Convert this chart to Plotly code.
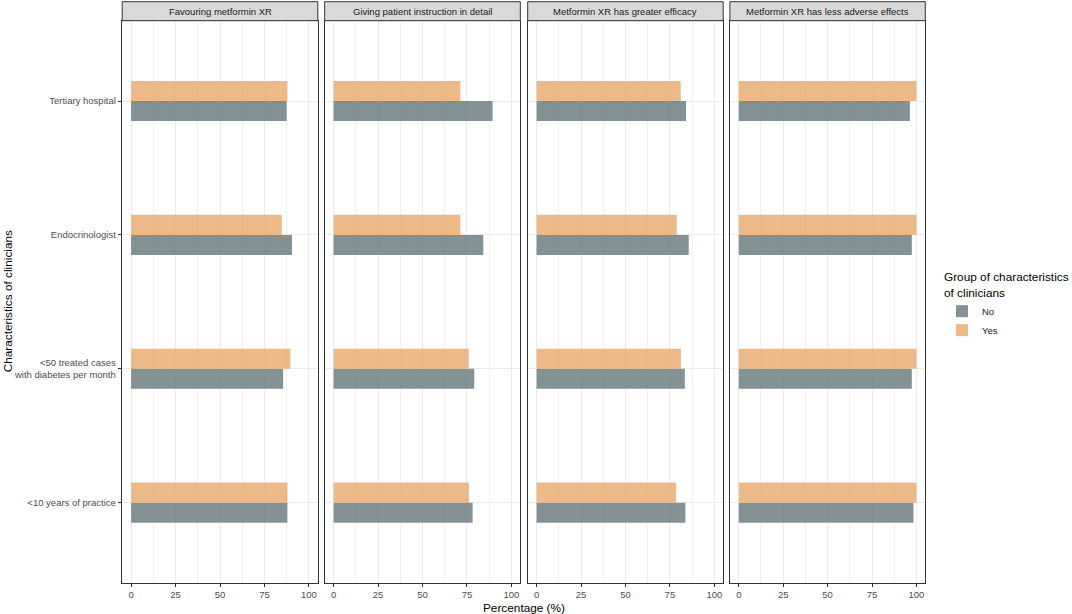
import plotly.graph_objects as go

# ---- data ----
categories = ["<10 years of practice",
              "<50 treated cases<br>with diabetes per month",
              "Endocrinologist",
              "Tertiary hospital"]
panels = ["Favouring metformin XR",
          "Giving patient instruction in detail",
          "Metformin XR has greater efficacy",
          "Metformin XR has less adverse effects"]
groups = ["No", "Yes"]
no_values = [
    [87.9, 85.5, 90.5, 87.5],
    [78.2, 79.1, 84.2, 89.4],
    [83.7, 83.4, 85.6, 84.1],
    [98.3, 97.4, 97.4, 96.3],
]
yes_values = [
    [87.9, 89.6, 84.7, 87.9],
    [76.1, 76.0, 71.3, 71.3],
    [78.5, 81.2, 78.9, 81.1],
    [100.0, 100.0, 100.0, 100.0],
]
x_ticks = [0, 25, 50, 75, 100]

# ---- styling ----
W, H = 1072, 614
FONT = "Liberation Sans, Arial, sans-serif"
colors = {"No": "rgb(110,127,131)", "Yes": "rgb(233,173,117)"}
panel_px = [(122.2, 317.8), (324.7, 520.3), (527.7, 723.2), (729.9, 925.3)]
top_px, bottom_px, strip_top_px = 20.7, 583.0, 1.7
ydom = [1 - bottom_px / H, 1 - top_px / H]

fig = go.Figure()
for j in range(4):
    xa = "x" if j == 0 else f"x{j+1}"
    ya = "y" if j == 0 else f"y{j+1}"
    for g, vals in zip(groups, [no_values[j], yes_values[j]]):
        fig.add_trace(go.Bar(
            y=categories, x=vals, orientation="h", name=g,
            marker=dict(color=colors[g], line=dict(width=0)),
            opacity=0.85, xaxis=xa, yaxis=ya,
            showlegend=(j == 0), legendgroup=g,
        ))

layout = dict(
    width=W, height=H,
    margin=dict(l=0, r=0, t=0, b=0),
    paper_bgcolor="white", plot_bgcolor="white",
    barmode="group", bargap=0.7, bargroupgap=0,
    font=dict(family=FONT, color="#4D4D4D", size=9.5),
    showlegend=True,
    legend=dict(
        title=dict(text="Group of characteristics<br>of clinicians",
                   font=dict(size=11.8, color="black", family=FONT)),
        font=dict(size=9.5, color="#1A1A1A", family=FONT),
        x=942 / W, xanchor="left", y=1 - 266 / H, yanchor="top",
        bgcolor="rgba(0,0,0,0)", traceorder="normal", tracegroupgap=0,
        itemwidth=30,
    ),
)
shapes, annotations = [], []
for j, (x0, x1) in enumerate(panel_px):
    sfx = "" if j == 0 else str(j + 1)
    layout["xaxis" + sfx] = dict(
        domain=[x0 / W, x1 / W], anchor="y" + sfx, range=[-5, 105],
        tickvals=x_ticks, ticktext=[str(v) for v in x_ticks],
        ticks="outside", ticklen=3, tickcolor="#333333", tickwidth=1,
        tickfont=dict(size=9.5, color="#4D4D4D", family=FONT),
        showgrid=True, gridcolor="#EBEBEB", gridwidth=1,
        minor=dict(tick0=12.5, dtick=25, showgrid=True, gridcolor="#F0F0F0", gridwidth=1),
        showline=True, mirror=True, linecolor="#333333", linewidth=1,
        zeroline=False, automargin=False, fixedrange=True,
    )
    layout["yaxis" + sfx] = dict(
        domain=ydom, anchor="x" + sfx, type="category",
        categoryorder="array", categoryarray=categories,
        range=[-0.6, 3.6],
        showticklabels=(j == 0), ticks="outside" if j == 0 else "",
        ticklen=3.5, tickcolor="#333333", tickwidth=1,
        tickfont=dict(size=9.5, color="#4D4D4D", family=FONT),
        showgrid=True, gridcolor="#EBEBEB", gridwidth=1,
        showline=True, mirror=True, linecolor="#333333", linewidth=1,
        zeroline=False, automargin=False, fixedrange=True,
    )
    shapes.append(dict(type="rect", xref="paper", yref="paper",
                       x0=x0 / W, x1=x1 / W, y0=1 - top_px / H, y1=1 - strip_top_px / H,
                       fillcolor="#D9D9D9", line=dict(color="#333333", width=1), layer="above"))
    annotations.append(dict(text=panels[j], xref="paper", yref="paper",
                            x=(x0 + x1) / 2 / W, y=1 - (top_px + strip_top_px) / 2 / H,
                            xanchor="center", yanchor="middle", showarrow=False,
                            font=dict(size=9.5, color="#1A1A1A", family=FONT)))

annotations.append(dict(text="Percentage (%)", xref="paper", yref="paper",
                        x=(panel_px[0][0] + panel_px[3][1]) / 2 / W, y=1 - 607.5 / H,
                        xanchor="center", yanchor="middle", showarrow=False,
                        font=dict(size=11.8, color="black", family=FONT)))
annotations.append(dict(text="Characteristics of clinicians", xref="paper", yref="paper",
                        x=7.5 / W, y=1 - (top_px + bottom_px) / 2 / H, textangle=-90,
                        xanchor="center", yanchor="middle", showarrow=False,
                        font=dict(size=11.8, color="black", family=FONT)))
layout["shapes"] = shapes
layout["annotations"] = annotations
fig.update_layout(**layout)
fig.write_html("out.html",
               config={"displayModeBar": False},
               post_script="document.body.style.margin='0';document.body.style.overflow='hidden';")
